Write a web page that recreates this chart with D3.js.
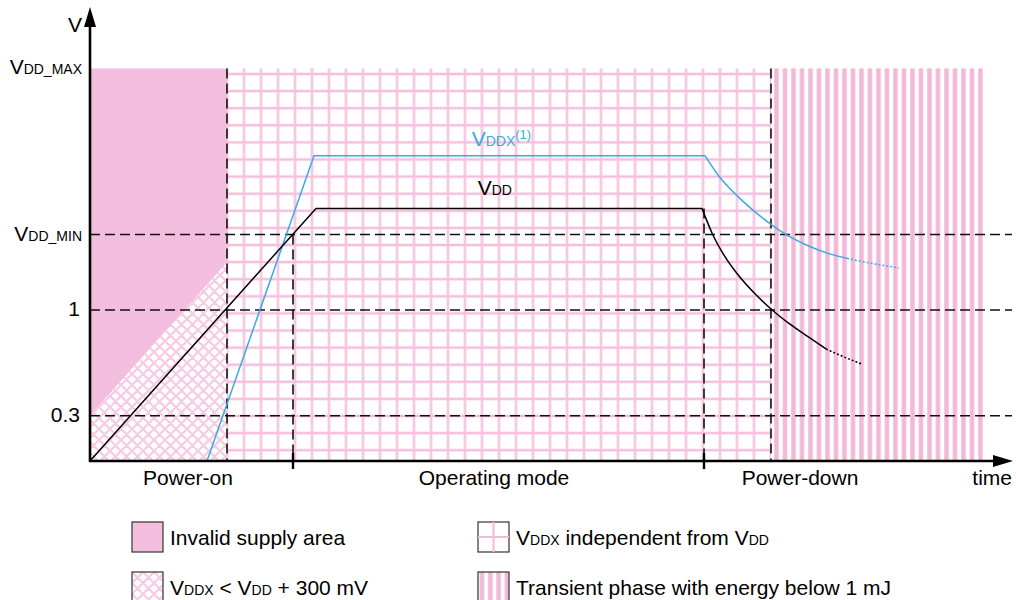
<!DOCTYPE html>
<meta charset="utf-8">
<style>
body { margin: 0; background: #fff; }
svg { display: block; font-family: "Liberation Sans", Arial, sans-serif; }
.guide { fill: none; stroke: #111; stroke-width: 1.6px; stroke-dasharray: 10,5; }
.axis-line { stroke: #000; stroke-width: 2.6px; }
.lbl { font-size: 21px; fill: #000; }
.sub { font-size: 14px; }
.vdd { fill: none; stroke: #000; stroke-width: 1.5px; }
.vddx { fill: none; stroke: #3ca9e2; stroke-width: 1.5px; }
.tail { stroke-dasharray: 2,2; }
.legend-box { stroke: #333; stroke-width: 1.2px; }
</style>
<body>
<svg width="1016" height="600"></svg>
<script src="https://d3js.org/d3.v7.min.js"></script>
<script>
// time in arbitrary units, voltage in V (sketch, not to scale)
var yLevels = [2.6, 1.5, 1, 0.3];
var yLabelMain = ["V", "V", "1", "0.3"];
var yLabelSub = ["DD_MAX", "DD_MIN", "", ""];
var phaseBounds = [137, 203, 614, 681];
var transientEnd = 893;
var phaseNames = ["Power-on", "Operating mode", "Power-down"];
var phaseLabelT = [98, 404, 710];

var vddRise = [[0, 0], [226, 1.673], [612, 1.673]];
var vddFall = [[612, 1.673], [622, 1.510], [634, 1.363], [648, 1.233], [665, 1.107], [681, 1.007], [700, 0.906], [718, 0.823], [736, 0.742]];
var vddTail = [[736, 0.742], [754, 0.689], [772, 0.642]];
var vddxRise = [[117, 0], [224, 2.022], [615, 2.022]];
var vddxFall = [[615, 2.022], [628, 1.894], [648, 1.751], [665, 1.650], [681, 1.567], [695, 1.504], [717, 1.429], [738, 1.375], [757, 1.342]];
var vddxTail = [[757, 1.342], [783, 1.307], [809, 1.279]];

var invalidArea = [[0, 2.6], [137, 2.6], [137, 1.314], [0, 0.3]];
var lowArea = [[0, 0], [137, 0], [137, 1.314], [0, 0.3]];

var legendNames = ["Invalid supply area", "VDDX < VDD + 300 mV", "VDDX independent from VDD", "Transient phase with energy below 1 mJ"];

var pink = "#f3bede";

var svg = d3.select("svg");
var x = d3.scaleLinear().domain([0, 920]).range([90, 1010]);
var y = d3.scaleLinear().domain([0, 3]).range([461, 8]);

var defs = svg.append("defs");

// cross hatch
var hatch = defs.append("pattern")
	.attr("id", "hatch")
	.attr("patternUnits", "userSpaceOnUse")
	.attr("width", 11).attr("height", 11);
hatch.append("rect").attr("width", 11).attr("height", 11).attr("fill", "#fff");
hatch.append("path")
	.attr("d", "M0,0L11,11M-1,10L1,12M10,-1L12,1M0,11L11,0M-1,1L1,-1M10,12L12,10")
	.attr("stroke", "#f6cbe3").attr("stroke-width", 2.2);

// grid
var grid = defs.append("pattern")
	.attr("id", "grid")
	.attr("patternUnits", "userSpaceOnUse")
	.attr("x", x(phaseBounds[0]) - 8.5).attr("y", 74 - 8.55)
	.attr("width", 17).attr("height", 17.1);
grid.append("rect").attr("width", 17).attr("height", 17.1).attr("fill", "#fff");
grid.append("path").attr("d", "M8.5,0V17.1M0,8.55H17")
	.attr("stroke", "#fbe4f0").attr("stroke-width", 3.2);
grid.append("path").attr("d", "M8.5,0V17.1M0,8.55H17")
	.attr("stroke", "#f4bedc").attr("stroke-width", 1.7);

// vertical stripes
function makeStripes(id, x0, w) {
	var p = defs.append("pattern")
		.attr("id", id)
		.attr("patternUnits", "userSpaceOnUse")
		.attr("x", x0).attr("width", w).attr("height", 10);
	p.append("rect").attr("width", w).attr("height", 10).attr("fill", "#fff");
	p.append("rect").attr("width", 5).attr("height", 10).attr("fill", "#f8d4e8");
	p.append("rect").attr("x", 0.6).attr("width", 3.8).attr("height", 10).attr("fill", "#f2b8d8");
}
makeStripes("stripes", 774, 8.5);
makeStripes("stripes-legend", 479.5, 8.3);

var straight = d3.line().x(function(d) { return x(d[0]); }).y(function(d) { return y(d[1]); });
var smooth = d3.line().curve(d3.curveMonotoneX).x(function(d) { return x(d[0]); }).y(function(d) { return y(d[1]); });

// regions
svg.append("path").datum(invalidArea).attr("d", straight).attr("fill", pink);
svg.append("path").datum(lowArea).attr("d", straight).attr("fill", "url(#hatch)");
svg.append("rect")
	.attr("x", x(phaseBounds[0])).attr("y", y(yLevels[0]))
	.attr("width", x(phaseBounds[3]) - x(phaseBounds[0]))
	.attr("height", y(0) - y(yLevels[0]))
	.attr("fill", "url(#grid)");
svg.append("rect")
	.attr("x", x(phaseBounds[3])).attr("y", y(yLevels[0]))
	.attr("width", x(transientEnd) - x(phaseBounds[3]))
	.attr("height", y(0) - y(yLevels[0]))
	.attr("fill", "url(#stripes)");

// dashed guides
yLevels.slice(1).forEach(function(v) {
	svg.append("line").attr("class", "guide")
		.attr("x1", x(0)).attr("x2", x(922))
		.attr("y1", y(v)).attr("y2", y(v));
});
var guideTop = [yLevels[0], yLevels[1], vddRise[1][1], yLevels[0]];
phaseBounds.forEach(function(t, i) {
	svg.append("line").attr("class", "guide")
		.attr("x1", x(t)).attr("x2", x(t))
		.attr("y1", y(guideTop[i])).attr("y2", y(0));
});
[phaseBounds[1], phaseBounds[2]].forEach(function(t) {
	svg.append("line")
		.attr("x1", x(t)).attr("x2", x(t))
		.attr("y1", y(0) - 8).attr("y2", y(0) + 8)
		.attr("stroke", "#000").attr("stroke-width", 2.4);
});

// curves
svg.append("path").datum(vddxRise).attr("class", "vddx").attr("d", straight);
svg.append("path").datum(vddxFall).attr("class", "vddx").attr("d", smooth);
svg.append("path").datum(vddxTail).attr("class", "vddx tail").attr("d", smooth);
svg.append("path").datum(vddRise).attr("class", "vdd").attr("d", straight);
svg.append("path").datum(vddFall).attr("class", "vdd").attr("d", smooth);
svg.append("path").datum(vddTail).attr("class", "vdd tail").attr("d", smooth);

// axes
svg.append("line").attr("class", "axis-line")
	.attr("x1", x(0)).attr("x2", x(0)).attr("y1", y(0) + 1).attr("y2", 26);
svg.append("path").attr("d", "M84,27L90,7L96,27Z").attr("fill", "#000");
svg.append("line").attr("class", "axis-line")
	.attr("x1", x(0) - 1).attr("x2", 994).attr("y1", y(0)).attr("y2", y(0));
svg.append("path").attr("d", "M993,455L1013,461L993,467Z").attr("fill", "#000");

svg.append("text").attr("class", "lbl").attr("x", 82).attr("y", 32)
	.attr("text-anchor", "end").text("V");

yLevels.forEach(function(v, i) {
	var t = svg.append("text").attr("class", "lbl")
		.attr("x", yLabelSub[i] ? 82 : 80).attr("y", y(v) + 6)
		.attr("text-anchor", "end");
	t.append("tspan").text(yLabelMain[i]);
	if (yLabelSub[i]) t.append("tspan").attr("class", "sub").text(yLabelSub[i]);
});

phaseNames.forEach(function(n, i) {
	svg.append("text").attr("class", "lbl")
		.attr("x", x(phaseLabelT[i])).attr("y", 485)
		.attr("text-anchor", "middle").text(n);
});
svg.append("text").attr("class", "lbl").attr("x", 1012).attr("y", 485)
	.attr("text-anchor", "end").text("time");

// curve labels
var lx = svg.append("text").attr("class", "lbl")
	.attr("x", x(381.7)).attr("y", y(vddxRise[1][1]) - 10).style("fill", "#3ca9e2");
lx.append("tspan").text("V");
lx.append("tspan").attr("class", "sub").text("DDX");
lx.append("tspan").attr("class", "sub").attr("dy", -7).style("font-size", "13px").text("(1)");

var ld = svg.append("text").attr("class", "lbl")
	.attr("x", x(387.7)).attr("y", y(vddRise[1][1]) - 13);
ld.append("tspan").text("V");
ld.append("tspan").attr("class", "sub").text("DD");

// legend
var legPos = [[132, 522], [132, 572], [478, 522], [478, 572]];
var legFill = [pink, "url(#hatch)", "#fff", "url(#stripes-legend)"];
legPos.forEach(function(p, i) {
	svg.append("rect").attr("class", "legend-box")
		.attr("x", p[0]).attr("y", p[1]).attr("width", 31).attr("height", 30)
		.attr("fill", legFill[i]);
});
svg.append("path")
	.attr("d", "M" + (legPos[2][0] + 15.5) + "," + legPos[2][1] + "v30M" + legPos[2][0] + "," + (legPos[2][1] + 15) + "h31")
	.attr("stroke", "#f3b9da").attr("stroke-width", 2);

function legendText(i, parts) {
	var t = svg.append("text").attr("class", "lbl")
		.attr("x", legPos[i][0] + 38).attr("y", legPos[i][1] + 23);
	parts.forEach(function(s) {
		t.append("tspan").attr("class", s[1] ? "sub" : null).text(s[0]);
	});
}
legendText(0, [[legendNames[0]]]);
legendText(1, [["V"], ["DDX", 1], [" < V"], ["DD", 1], [" + 300 mV"]]);
legendText(2, [["V"], ["DDX", 1], [" independent from V"], ["DD", 1]]);
legendText(3, [[legendNames[3]]]);
</script>
</body>
